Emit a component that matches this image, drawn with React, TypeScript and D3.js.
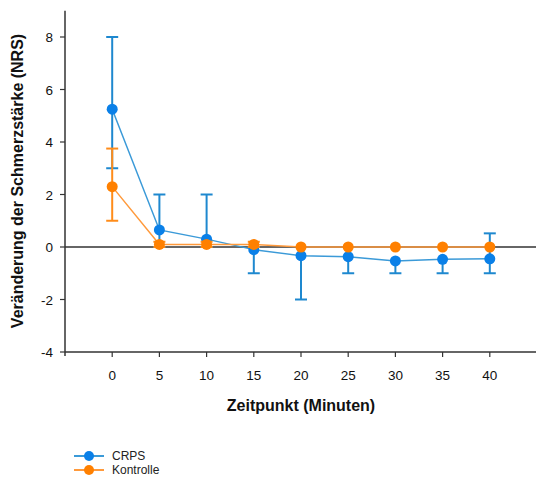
import React, { useRef, useEffect } from "react";
import * as d3 from "d3";

const times = [0, 5, 10, 15, 20, 25, 30, 35, 40];
const crpsValues = [5.25, 0.65, 0.3, -0.1, -0.33, -0.37, -0.53, -0.47, -0.45];
const crpsLower = [3, 0, 0, -1, -2, -1, -1, -1, -1];
const crpsUpper = [8, 2, 2, 0, -0.33, -0.37, -0.53, -0.47, 0.52];
const kontrolleValues = [2.3, 0.1, 0.1, 0.1, 0, 0, 0, 0, 0];
const kontrolleLower = [1, 0, 0, 0, 0, 0, 0, 0, 0];
const kontrolleUpper = [3.75, 0.2, 0.2, 0.2, 0, 0, 0, 0, 0];
const yTicks = [-4, -2, 0, 2, 4, 6, 8];

const App = () => {
  const ref = useRef(null);

  useEffect(() => {
    const svg = d3.select(ref.current);
    svg.selectAll("*").remove();

    const x = d3.scaleLinear().domain([-5, 45]).range([65, 537]);
    const y = d3.scaleLinear().domain([-4, 9]).range([352, 10.75]);
    const font = "Liberation Sans, Arial, sans-serif";

    // axes
    svg
      .append("line")
      .attr("x1", x(-5))
      .attr("x2", x(-5))
      .attr("y1", y(9))
      .attr("y2", y(-4) + 4)
      .attr("stroke", "#333")
      .attr("stroke-width", 1.5);
    svg
      .append("line")
      .attr("x1", x(-5))
      .attr("x2", 536)
      .attr("y1", y(-4))
      .attr("y2", y(-4))
      .attr("stroke", "#333")
      .attr("stroke-width", 1.5);
    svg
      .append("line")
      .attr("x1", x(-5))
      .attr("x2", 536)
      .attr("y1", y(0))
      .attr("y2", y(0))
      .attr("stroke", "#333")
      .attr("stroke-width", 1.5);

    yTicks.forEach((t) => {
      svg
        .append("line")
        .attr("x1", x(-5) - 5)
        .attr("x2", x(-5))
        .attr("y1", y(t))
        .attr("y2", y(t))
        .attr("stroke", "#333")
        .attr("stroke-width", 1.2);
      svg
        .append("text")
        .attr("x", x(-5) - 12)
        .attr("y", y(t) + 5)
        .attr("text-anchor", "end")
        .attr("font-family", font)
        .attr("font-size", 13.5)
        .attr("fill", "#111")
        .text(t);
    });

    times.forEach((t) => {
      svg
        .append("line")
        .attr("x1", x(t))
        .attr("x2", x(t))
        .attr("y1", y(-4))
        .attr("y2", y(-4) + 5)
        .attr("stroke", "#333")
        .attr("stroke-width", 1.2);
      svg
        .append("text")
        .attr("x", x(t))
        .attr("y", y(-4) + 28)
        .attr("text-anchor", "middle")
        .attr("font-family", font)
        .attr("font-size", 13.5)
        .attr("fill", "#111")
        .text(t);
    });

    svg
      .append("text")
      .attr("x", 301)
      .attr("y", 411)
      .attr("text-anchor", "middle")
      .attr("font-family", font)
      .attr("font-size", 16)
      .attr("font-weight", "bold")
      .attr("fill", "#111")
      .text("Zeitpunkt (Minuten)");

    svg
      .append("text")
      .attr("transform", `translate(23,${181}) rotate(-90)`)
      .attr("text-anchor", "middle")
      .attr("font-family", font)
      .attr("font-size", 16)
      .attr("font-weight", "bold")
      .attr("fill", "#111")
      .text("Veränderung der Schmerzstärke (NRS)");

    const series = [
      {
        values: crpsValues,
        lower: crpsLower,
        upper: crpsUpper,
        line: "#3b9ad8",
        err: "#1e88cf",
        dot: "#0a80e8",
      },
      {
        values: kontrolleValues,
        lower: kontrolleLower,
        upper: kontrolleUpper,
        line: "#ff9a3c",
        err: "#ff8c1a",
        dot: "#ff8000",
      },
    ];

    const lineGen = d3
      .line()
      .x((d) => x(d[0]))
      .y((d) => y(d[1]));

    series.forEach((s) => {
      const g = svg.append("g");
      times.forEach((t, i) => {
        const lo = s.lower[i];
        const hi = s.upper[i];
        if (lo === hi) return;
        g.append("line")
          .attr("x1", x(t))
          .attr("x2", x(t))
          .attr("y1", y(lo))
          .attr("y2", y(hi))
          .attr("stroke", s.err)
          .attr("stroke-width", 2);
        [lo, hi].forEach((v) => {
          if (v === s.values[i]) return;
          g.append("line")
            .attr("x1", x(t) - 6)
            .attr("x2", x(t) + 6)
            .attr("y1", y(v))
            .attr("y2", y(v))
            .attr("stroke", s.err)
            .attr("stroke-width", 2);
        });
      });
      g.append("path")
        .attr("d", lineGen(times.map((t, i) => [t, s.values[i]])))
        .attr("fill", "none")
        .attr("stroke", s.line)
        .attr("stroke-width", 1.5);
      g.selectAll("circle")
        .data(times)
        .enter()
        .append("circle")
        .attr("cx", (d) => x(d))
        .attr("cy", (d, i) => y(s.values[i]))
        .attr("r", 5.5)
        .attr("fill", s.dot);
    });

    // legend
    const legend = [
      { name: "CRPS", s: series[0], y: 456 },
      { name: "Kontrolle", s: series[1], y: 470 },
    ];
    legend.forEach((l) => {
      svg
        .append("line")
        .attr("x1", 74)
        .attr("x2", 104)
        .attr("y1", l.y)
        .attr("y2", l.y)
        .attr("stroke", l.s.line)
        .attr("stroke-width", 2);
      svg
        .append("circle")
        .attr("cx", 89)
        .attr("cy", l.y)
        .attr("r", 5)
        .attr("fill", l.s.dot);
      svg
        .append("text")
        .attr("x", 112)
        .attr("y", l.y + 4)
        .attr("font-family", font)
        .attr("font-size", 12)
        .attr("fill", "#222")
        .text(l.name);
    });
  }, []);

  return (
    <svg
      ref={ref}
      width={536}
      height={477}
      style={{ position: "absolute", left: 0, top: 0, background: "#fff" }}
    />
  );
};

export default App;
